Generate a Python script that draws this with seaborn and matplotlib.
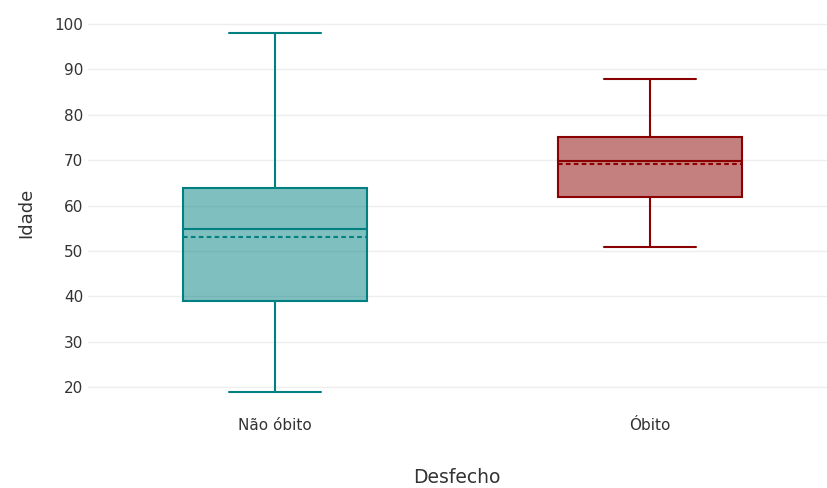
import matplotlib
matplotlib.use("Agg")
import matplotlib.pyplot as plt
import seaborn as sns

# Age summary by outcome
categories = ["Não óbito", "Óbito"]
whisker_low = [19, 51]
q1 = [39, 62]
median = [54.8, 69.9]
q3 = [64, 75.2]
whisker_high = [98, 88]
mean = [53.1, 69.2]

edge_colors = ["#008080", "#8B0000"]

sns.set_theme(style="white")
plt.rcParams["font.family"] = ["DejaVu Sans"]

fig = plt.figure(figsize=(8.27, 4.88), dpi=100)
ax = fig.add_axes([87.5 / 827, 1 - 410 / 488, (827 - 87.5) / 827, (410 - 15) / 488])

stats = []
for i, name in enumerate(categories):
    stats.append(dict(label=name, whislo=whisker_low[i], q1=q1[i], med=median[i],
                      q3=q3[i], whishi=whisker_high[i], mean=mean[i], fliers=[]))

positions = list(range(len(categories)))
bp = ax.bxp(stats, positions=positions, widths=0.49, patch_artist=True,
            showmeans=True, meanline=True, showfliers=False)

for i, col in enumerate(edge_colors):
    box = bp["boxes"][i]
    box.set_facecolor(matplotlib.colors.to_rgba(col, 0.5))
    box.set_edgecolor(col)
    box.set_linewidth(1.5)
    bp["medians"][i].set(color=col, linewidth=1.5)
    bp["means"][i].set(color=col, linewidth=1.5, linestyle=(0, (2.2, 1.6)))
    for w in bp["whiskers"][2 * i:2 * i + 2]:
        w.set(color=col, linewidth=1.5)
    for c in bp["caps"][2 * i:2 * i + 2]:
        c.set(color=col, linewidth=1.5)

ax.set_xlim(-0.5, 1.472)
ax.set_ylim(15, 102)
ax.set_yticks([20, 30, 40, 50, 60, 70, 80, 90, 100])
ax.set_xticks(positions)
ax.set_xticklabels(categories)
ax.grid(axis="y", color="#eeeeee", linewidth=1)
ax.grid(axis="x", visible=False)
ax.set_axisbelow(True)
for s in ax.spines.values():
    s.set_visible(False)
ax.tick_params(axis="both", length=0, labelsize=11, labelcolor="#333333")
ax.tick_params(axis="x", pad=6)
ax.tick_params(axis="y", pad=3)
ax.set_xlabel("Desfecho", fontsize=13.5, color="#333333", labelpad=25)
ax.set_ylabel("Idade", fontsize=13, color="#333333", labelpad=14)

fig.savefig("out.png", dpi=100)
